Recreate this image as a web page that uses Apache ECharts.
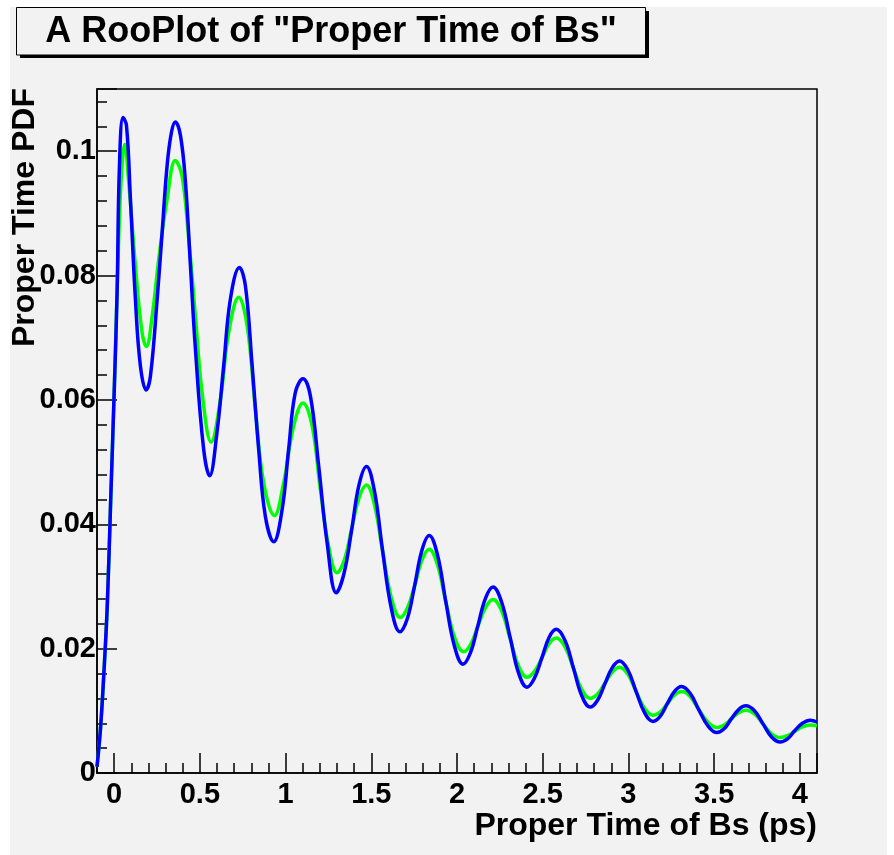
<!DOCTYPE html>
<html><head><meta charset="utf-8">
<script src="https://cdn.jsdelivr.net/npm/echarts@6/dist/echarts.min.js"></script>
<style>html,body{margin:0;padding:0;background:#fff}#c{width:894px;height:855px}</style>
</head><body><div id="c"></div>
<script>
// Proper time (ps) and PDF values
const blueT = [-0.1,-0.08,-0.06,-0.04,-0.02,0,0.017,0.031,0.052,0.072,0.095,0.124,0.153,0.187,0.212,0.251,0.28,0.309,0.334,0.357,0.387,0.416,0.445,0.474,0.522,0.557,0.6,0.639,0.678,0.731,0.766,0.805,0.843,0.882,0.931,0.98,1.018,1.057,1.102,1.145,1.193,1.242,
  1.296,1.34,1.385,1.428,1.472,1.518,1.565,1.616,1.667,1.71,1.752,1.795,1.838,1.886,1.935,1.985,2.035,2.078,2.122,2.166,2.21,2.26,2.31,2.359,2.408,2.451,2.495,2.537,2.579,2.63,2.68,2.728,2.777,2.82,2.862,2.905,2.948,2.996,3.045,3.094,3.143,3.185,3.226,3.268,3.31,3.36,3.41,3.463,3.516,3.558,3.6,3.643,3.685,3.735,3.785,3.835,3.885,3.928,3.97,4.015,4.06,4.1];
const blueV = [0.001,0.007,0.016,0.027,0.044,0.061,0.077,0.0977,0.1054,0.1041,0.0923,0.0762,0.0655,0.0616,0.0639,0.0762,0.087,0.0977,0.103,0.1047,0.1025,0.095,0.0816,0.0682,0.0521,0.0478,0.0548,0.0655,0.0762,0.0813,0.0783,0.0655,0.0521,0.0413,0.0372,0.0424,0.0521,0.0612,0.0634,0.0606,0.0494,0.0371,
  0.029,0.032,0.039,0.0463,0.0493,0.0454,0.036,0.0266,0.0227,0.0248,0.030,0.0358,0.0382,0.0351,0.0275,0.0204,0.0175,0.0193,0.0237,0.0281,0.0299,0.0275,0.0218,0.0161,0.0138,0.0152,0.0185,0.0218,0.0231,0.0213,0.0168,0.0124,0.0106,0.0117,0.0143,0.0169,0.018,0.0166,0.0131,0.0097,0.0083,0.0091,0.0111,0.0131,0.0139,0.0128,0.0102,0.0076,0.0065,0.0071,0.0087,0.0102,0.0108,0.0100,0.0079,0.0058,0.005,0.0055,0.0068,0.008,0.0085,0.0082];
const greenT = [-0.1,-0.08,-0.06,-0.04,-0.02,0,0.02,0.04,0.062,0.085,0.124,0.163,0.188,0.222,0.26,0.309,0.357,0.396,0.435,0.474,0.513,0.566,0.62,0.668,0.727,0.776,0.824,0.872,0.935,0.989,1.047,1.102,1.155,1.203,1.251,
  1.3,1.342,1.385,1.428,1.472,1.518,1.565,1.617,1.669,1.71,1.752,1.795,1.838,1.886,1.935,1.986,2.038,2.08,2.122,2.166,2.21,2.26,2.31,2.359,2.408,2.451,2.495,2.537,2.579,2.63,2.68,2.728,2.777,2.82,2.862,2.905,2.948,2.996,3.045,3.094,3.143,3.185,3.226,3.268,3.31,3.36,3.41,3.463,3.516,3.558,3.6,3.643,3.685,3.735,3.785,3.835,3.885,3.928,3.97,4.015,4.06,4.1];
const greenV = [0.001,0.007,0.016,0.027,0.044,0.061,0.08,0.095,0.1011,0.095,0.0816,0.0708,0.0686,0.0735,0.0826,0.0923,0.0985,0.096,0.0859,0.0735,0.0612,0.0532,0.0601,0.0708,0.0765,0.0719,0.0585,0.0467,0.0414,0.0467,0.0558,0.0595,0.0558,0.0456,0.0365,
  0.0322,0.0342,0.0392,0.0442,0.0463,0.0432,0.0358,0.0282,0.025,0.0265,0.03,0.0342,0.036,0.0335,0.0275,0.0218,0.0195,0.0207,0.0236,0.0266,0.0279,0.0261,0.0216,0.0172,0.0154,0.0163,0.0185,0.0208,0.0217,0.0203,0.0168,0.0134,0.012,0.0127,0.0144,0.0162,0.017,0.0159,0.0131,0.0104,0.0093,0.0098,0.0111,0.0125,0.0131,0.0123,0.0102,0.0082,0.0073,0.0077,0.0087,0.0097,0.0101,0.0095,0.0079,0.0063,0.0057,0.006,0.0067,0.0074,0.0077,0.0076];
const xTickLabels = [0,0.5,1,1.5,2,2.5,3,3.5,4];
const yTickLabels = [0,0.02,0.04,0.06,0.08,0.1];
const titleText = 'A RooPlot of "Proper Time of Bs"';
const xTitle = 'Proper Time of Bs (ps)';
const yTitle = 'Proper Time PDF';

const FONT = '"Liberation Sans", Arial, Helvetica, sans-serif';
const zip = (a, b) => a.map((t, i) => [t, b[i]]);
const isIn = (arr, v) => arr.some(t => Math.abs(t - v) < 1e-9);
const fmt = v => String(+(+v).toFixed(4));

const chart = echarts.init(document.getElementById('c'), null, {renderer: 'canvas'});
const labelStyle = {fontFamily: FONT, fontWeight: 'bold', fontSize: 29, color: '#000'};
chart.setOption({
  backgroundColor: '#f2f2f2',
  animation: false,
  grid: {left: 97, right: 77, top: 89, bottom: 82, show: true, borderColor: '#000', borderWidth: 1.5, backgroundColor: 'transparent', outerBoundsMode: 'none'},
  xAxis: [
    {type: 'value', position: 'bottom', min: -0.1, max: 4.1, splitNumber: 8,
     axisLine: {show: true, onZero: false, lineStyle: {color: '#000', width: 1.5}},
     axisTick: {show: true, inside: true, length: 20, lineStyle: {color: '#000', width: 1.5}},
     splitLine: {show: false},
     axisLabel: Object.assign({margin: 7, showMinLabel: true, showMaxLabel: true,
       formatter: v => isIn(xTickLabels, v) ? fmt(v) : ''}, labelStyle)},
    {type: 'value', position: 'bottom', min: -0.1, max: 4.1, interval: 0.1,
     axisLine: {show: false, onZero: false},
     axisTick: {show: true, inside: true, length: 10, lineStyle: {color: '#000', width: 1.5}},
     splitLine: {show: false}, axisLabel: {show: false}}
  ],
  yAxis: [
    {type: 'value', position: 'left', min: 0, max: 0.11, interval: 0.02,
     axisLine: {show: true, onZero: false, lineStyle: {color: '#000', width: 1.5}},
     axisTick: {show: true, inside: true, length: 20, lineStyle: {color: '#000', width: 1.5}},
     splitLine: {show: false},
     axisLabel: Object.assign({margin: 1,
       formatter: v => isIn(yTickLabels, v) ? fmt(v) : ''}, labelStyle)},
    {type: 'value', position: 'left', min: 0, max: 0.11, interval: 0.004,
     axisLine: {show: false, onZero: false},
     axisTick: {show: true, inside: true, length: 10, lineStyle: {color: '#000', width: 1.5}},
     splitLine: {show: false}, axisLabel: {show: false}}
  ],
  series: [
    {type: 'line', name: 'green', data: zip(greenT, greenV), xAxisIndex: 0, yAxisIndex: 0,
     showSymbol: false, smooth: 0.4, lineStyle: {color: '#00ff00', width: 3.5}, z: 2},
    {type: 'line', name: 'blue', data: zip(blueT, blueV), xAxisIndex: 0, yAxisIndex: 0,
     showSymbol: false, smooth: 0.4, lineStyle: {color: '#0000ff', width: 3.5}, z: 3}
  ],
  graphic: [
    {type: 'rect', shape: {x: 0, y: 0, width: 894, height: 7}, style: {fill: '#fff'}, silent: true},
    {type: 'rect', shape: {x: 0, y: 0, width: 10, height: 855}, style: {fill: '#fff'}, silent: true},
    {type: 'rect', shape: {x: 887, y: 0, width: 7, height: 855}, style: {fill: '#fff'}, silent: true},
    {type: 'rect', shape: {x: 20, y: 11, width: 629, height: 47}, style: {fill: '#000'}, silent: true},
    {type: 'rect', shape: {x: 16.5, y: 7.5, width: 629, height: 47.5}, style: {fill: '#f2f2f2', stroke: '#000', lineWidth: 1}, silent: true},
    {type: 'text', x: 331, y: 32, silent: true,
     style: {text: titleText, fill: '#000', font: 'bold 36px ' + FONT, align: 'center', verticalAlign: 'middle', textAlign: 'center', textVerticalAlign: 'middle'}},
    {type: 'text', x: 817, y: 826, silent: true,
     style: {text: xTitle, fill: '#000', font: 'bold 32px ' + FONT, align: 'right', verticalAlign: 'middle', textAlign: 'right', textVerticalAlign: 'middle'}},
    {type: 'text', x: 25, y: 88, rotation: Math.PI / 2, silent: true,
     style: {text: yTitle, fill: '#000', font: 'bold 32px ' + FONT, align: 'right', verticalAlign: 'middle', textAlign: 'right', textVerticalAlign: 'middle'}}
  ]
});
</script>
</body></html>
